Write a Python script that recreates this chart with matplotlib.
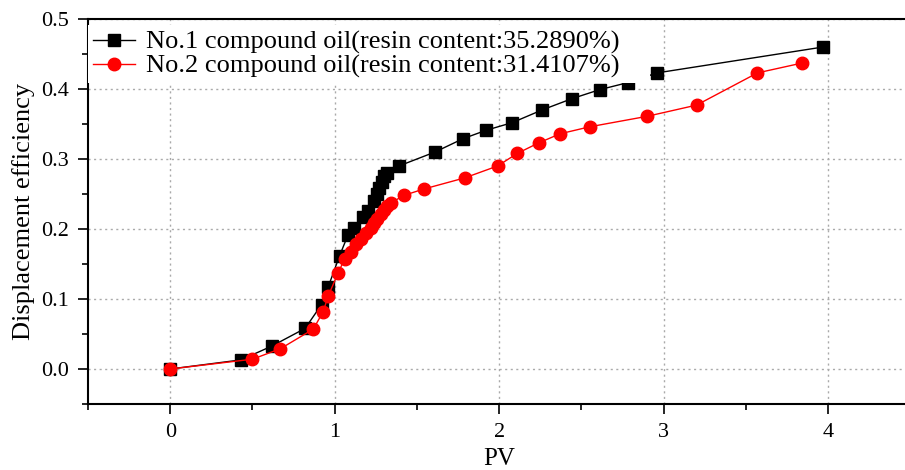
import matplotlib.pyplot as plt
from matplotlib.ticker import MultipleLocator

plt.rcParams['font.family'] = ['Liberation Serif', 'DejaVu Serif']

# PV injected vs displacement efficiency, two compound oils
pv_oil1 = [0.0, 0.43, 0.62, 0.82, 0.92, 0.96, 1.03, 1.08, 1.12, 1.17, 1.20,
           1.24, 1.26, 1.27, 1.29, 1.30, 1.32, 1.39, 1.61, 1.78, 1.92, 2.08,
           2.26, 2.44, 2.61, 2.78, 2.96, 3.97]
eff_oil1 = [0.0, 0.013, 0.033, 0.058, 0.092, 0.117, 0.162, 0.191, 0.202, 0.217,
            0.226, 0.240, 0.250, 0.258, 0.267, 0.275, 0.280, 0.290, 0.310, 0.329,
            0.341, 0.352, 0.370, 0.386, 0.399, 0.409, 0.423, 0.460]

pv_oil2 = [0.0, 0.50, 0.67, 0.87, 0.93, 0.96, 1.02, 1.06, 1.10, 1.13, 1.16,
           1.19, 1.22, 1.24, 1.26, 1.28, 1.30, 1.32, 1.34, 1.42, 1.54, 1.79,
           1.99, 2.11, 2.24, 2.37, 2.55, 2.90, 3.20, 3.57, 3.84]
eff_oil2 = [0.0, 0.014, 0.029, 0.057, 0.082, 0.104, 0.137, 0.157, 0.167, 0.178,
            0.186, 0.194, 0.202, 0.209, 0.215, 0.221, 0.227, 0.233, 0.237, 0.248,
            0.257, 0.273, 0.290, 0.308, 0.323, 0.336, 0.346, 0.361, 0.377, 0.423,
            0.437]

label_oil1 = 'No.1 compound oil(resin content:35.2890%)'
label_oil2 = 'No.2 compound oil(resin content:31.4107%)'

fig = plt.figure(figsize=(9.05, 4.70), dpi=100)
ax = fig.add_axes([0.0972, 0.1404, 0.9088, 0.8192])

ax.plot(pv_oil1, eff_oil1, color='black', lw=1.0, marker='s', ms=8.5,
        label=label_oil1, zorder=3)
ax.plot(pv_oil2, eff_oil2, color='red', lw=1.0, marker='o', ms=9,
        label=label_oil2, zorder=3)

ax.set_xlim(-0.5, 4.5)
ax.set_ylim(-0.05, 0.5)
ax.xaxis.set_major_locator(MultipleLocator(1))
ax.xaxis.set_minor_locator(MultipleLocator(0.5))
ax.yaxis.set_major_locator(MultipleLocator(0.1))
ax.yaxis.set_minor_locator(MultipleLocator(0.05))
ax.yaxis.set_major_formatter(plt.FormatStrFormatter('%.1f'))

ax.grid(True, which='major', color='#aaaaaa', ls=(0, (1.5, 2.5)), lw=1.0)
ax.tick_params(which='major', direction='out', length=7, width=1.2,
               labelsize=16, pad=7)
ax.tick_params(which='minor', direction='out', length=4, width=1.2)

for side in ['left', 'top', 'bottom']:
    ax.spines[side].set_linewidth(1.5)
ax.spines['right'].set_visible(False)

ax.set_xlabel('PV', fontsize=18, labelpad=4)
ax.set_ylabel('Displacement efficiency', fontsize=19, labelpad=4)

# legend box sits a little below the top spine, opaque white, no frame
leg = ax.legend(loc='upper left', bbox_to_anchor=(0.0, 0.0, 0.683, 0.984),
                mode='expand', fontsize=19, frameon=True, fancybox=False,
                borderaxespad=0.0, handlelength=1.6, handletextpad=0.4,
                labelspacing=0.0, borderpad=0.2)
leg.get_frame().set_edgecolor('none')
leg.get_frame().set_alpha(1.0)
leg.set_zorder(5)

fig.savefig('out.png', dpi=100)
